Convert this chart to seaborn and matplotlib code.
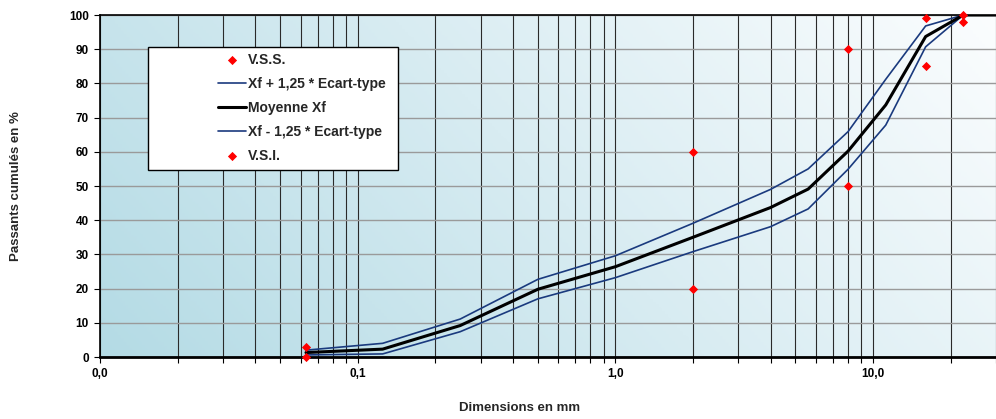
import numpy as np
import pandas as pd
import seaborn as sns
import matplotlib.pyplot as plt
from matplotlib.patches import Rectangle
from matplotlib.colors import LinearSegmentedColormap

# sieve openings (mm) and cumulative passing (%)
sieves = [0.063, 0.125, 0.25, 0.5, 1, 2, 4, 5.6, 8, 11.2, 16, 22.4, 31.5]
mean_xf = [1.3, 2.3, 9.2, 19.8, 26.4, 35.0, 43.7, 49.1, 60.2, 73.7, 93.7, 100, 100]
upper_xf = [2.0, 4.0, 11.1, 22.7, 29.6, 39.1, 49.0, 55.0, 65.9, 81.2, 96.8, 100, 100]
lower_xf = [0.6, 0.9, 7.4, 17.0, 23.2, 30.8, 38.1, 43.3, 54.9, 67.8, 90.7, 100, 100]

spec_x = [0.063, 2, 8, 16, 22.4]
vss = [3, 60, 90, 99, 100]
vsi = [0, 20, 50, 85, 98]

x_ticks = [0.01, 0.1, 1, 10]
x_labels = ["0,0", "0,1", "1,0", "10,0"]

sns.set_style("white")
plt.rcParams['font.family'] = ['Liberation Sans', 'DejaVu Sans']
plt.rcParams['font.weight'] = 'bold'

fig = plt.figure(figsize=(9.96, 4.19), dpi=100)
ax = fig.add_axes([100 / 996, 62 / 419, 896 / 996, 342 / 419])

# background gradient: light blue bottom-left to white top-right
gx, gy = np.meshgrid(np.linspace(0, 1, 300), np.linspace(0, 1, 200))
grad = (gx * 1.0 + gy * 0.35) / 1.35
cmap = LinearSegmentedColormap.from_list("bg", ["#b4dbe5", "#d8ecf2", "#fbfdfe"])
ax.imshow(grad, extent=[0, 1, 0, 1], origin="lower", transform=ax.transAxes,
          aspect="auto", cmap=cmap, zorder=0)

navy = "#1a3a7e"
df_up = pd.DataFrame({"x": sieves, "y": upper_xf})
df_mean = pd.DataFrame({"x": sieves, "y": mean_xf})
df_low = pd.DataFrame({"x": sieves, "y": lower_xf})

sns.scatterplot(x=spec_x, y=vss, ax=ax, marker="D", s=22, color="red", linewidth=0,
                label="V.S.S.", zorder=5, clip_on=False)
sns.lineplot(data=df_up, x="x", y="y", ax=ax, color=navy, lw=1.2,
             label="Xf + 1,25 * Ecart-type", zorder=3)
sns.lineplot(data=df_mean, x="x", y="y", ax=ax, color="black", lw=2.2,
             label="Moyenne Xf", zorder=4)
sns.lineplot(data=df_low, x="x", y="y", ax=ax, color=navy, lw=1.2,
             label="Xf - 1,25 * Ecart-type", zorder=3)
sns.scatterplot(x=spec_x, y=vsi, ax=ax, marker="D", s=22, color="red", linewidth=0,
                label="V.S.I.", zorder=5, clip_on=False)

ax.set_xscale("log")
ax.set_xlim(0.01, 30)
ax.set_ylim(0, 100)
ax.set_xticks(x_ticks)
ax.set_xticklabels(x_labels, fontsize=8.5, fontweight="bold")
ax.set_yticks(range(0, 101, 10))
ax.set_yticklabels([str(v) for v in range(0, 101, 10)], fontsize=8.5, fontweight="bold")

ax.grid(True, axis="y", color="#9a9a9a", lw=1.0, zorder=1)
ax.grid(True, axis="x", which="both", color="#2a2a2a", lw=0.8, zorder=1)
ax.set_axisbelow(True)
ax.tick_params(axis="both", which="both", direction="out", length=4, width=0.8,
               colors="black", pad=4, left=True, bottom=True)

for s in ["top", "left", "bottom"]:
    ax.spines[s].set_color("black")
ax.spines["bottom"].set_linewidth(2)
ax.spines["left"].set_linewidth(1.2)
ax.spines["top"].set_linewidth(1.2)
ax.spines["right"].set_visible(False)

ax.set_xlabel("")
ax.set_ylabel("")
fig.text(520 / 996, 1 - 408 / 419, "Dimensions en mm", fontsize=9.5, fontweight="bold",
         ha="center", va="center")
fig.text(16 / 996, 1 - 186 / 419, "Passants cumulés en %", fontsize=9.5, fontweight="bold",
         ha="center", va="center", rotation=90)

# legend box
ax.add_patch(Rectangle((48 / 896, (357 - 170) / 342), 250 / 896, 123 / 342,
                       transform=ax.transAxes, facecolor="white", edgecolor="black",
                       lw=1.0, zorder=6))
leg = ax.legend(loc="upper left", bbox_to_anchor=(118 / 896, (357 - 53) / 342),
                frameon=False, fontsize=10, labelspacing=0.72, handlelength=2.0,
                handletextpad=0.15, borderaxespad=0, borderpad=0)
leg.set_zorder(7)

fig.savefig("out.png", dpi=100)
